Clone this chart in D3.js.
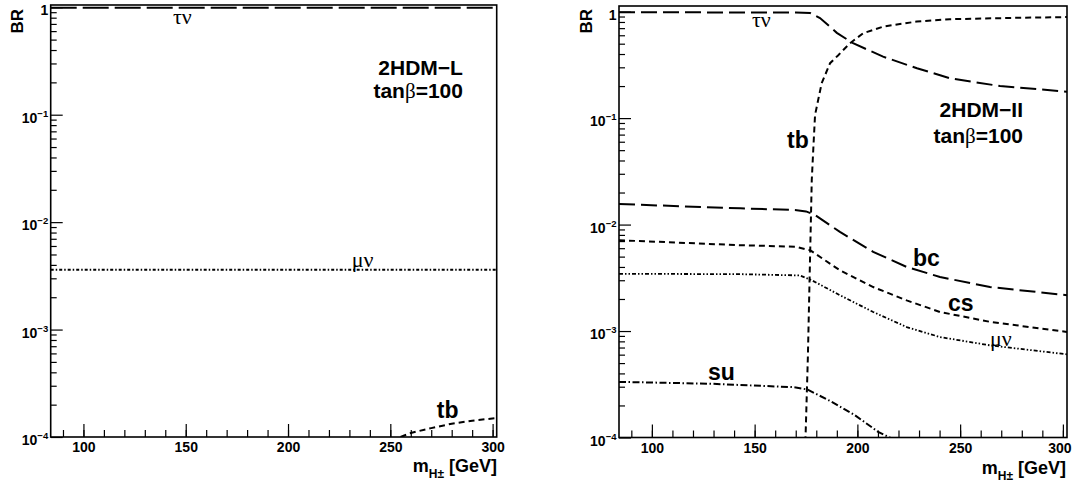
<!DOCTYPE html>
<html><head><meta charset="utf-8">
<script src="https://cdn.jsdelivr.net/npm/d3@7"></script>
<style>body{margin:0;background:#fff}</style>
</head><body>
<svg id="c" width="1073" height="488"></svg>
<script>
// ---- data ----
const massTicks = [100, 150, 200, 250, 300];
const massMinorTicks = [90,100,110,120,130,140,150,160,170,180,190,200,210,220,230,240,250,260,270,280,290,300];
const brTicks = [1e-4, 1e-3, 1e-2, 1e-1, 1];
const brTickBase = ["10", "10", "10", "10", "1"];
const brTickExp = ["\u22124", "\u22123", "\u22122", "\u22121", ""];
const brMinorMult = [2,3,4,5,6,7,8,9];

// 2HDM-L, tan(beta)=100
const leftTauNu = [[84, 0.99], [302, 0.99]];
const leftMuNu  = [[84, 3.6e-3], [302, 3.6e-3]];
const leftTb    = [[255, 1.0e-4], [260, 1.09e-4], [270, 1.21e-4], [280, 1.33e-4], [290, 1.42e-4], [302, 1.5e-4]];

// 2HDM-II, tan(beta)=100
const rightTauNu = [[84,0.985],[120,0.985],[170,0.98],[177,0.97],[181.8,0.87],[186,0.74],[190,0.632],[197.9,0.505],[212.5,0.378],[229,0.294],[245,0.237],[269.4,0.2],[302,0.177]];
const rightTb = [[174.7,0.9e-4],[175.9,5.66e-4],[177.8,2.62e-2],[178.6,5.38e-2],[179.4,0.107],[182.6,0.212],[186.7,0.328],[190.7,0.39],[196.4,0.505],[202.9,0.628],[212.6,0.724],[228.9,0.807],[245,0.849],[277.5,0.875],[302,0.89]];
const rightBc = [[84,1.56e-2],[143,1.42e-2],[169.6,1.37e-2],[175,1.33e-2],[179.4,1.23e-2],[191.5,8.54e-3],[207.7,5.54e-3],[224,4.0e-3],[240.2,3.22e-3],[264.5,2.59e-3],[302,2.17e-3]];
const rightCs = [[84,7.13e-3],[143,6.4e-3],[169.6,6.2e-3],[177,5.74e-3],[191.5,3.72e-3],[207.7,2.59e-3],[224,1.94e-3],[240.2,1.51e-3],[264.5,1.22e-3],[302,9.8e-4]];
const rightMuNu = [[84,3.45e-3],[143,3.42e-3],[172,3.33e-3],[177.8,3.0e-3],[191.5,2.17e-3],[207.7,1.51e-3],[224,1.09e-3],[240.2,8.78e-4],[264.5,7.34e-4],[302,6.04e-4]];
const rightSu = [[84,3.33e-4],[128.3,3.2e-4],[168.8,2.97e-4],[175.5,2.83e-4],[186.8,2.2e-4],[198.4,1.64e-4],[210.1,1.13e-4],[218,0.95e-4]];

// ---- styles ----
const DASH_LONG_L = "26,6", DASH_LONG = "16,6", DASH_SHORT = "6,4", DASH_DDOT = "4,2,1.5,2,1.5,2", DASH_DOT = "7,2.5,1.5,2.5";
const SANS = "'Liberation Sans', Arial, Helvetica, sans-serif";
const SERIF = "'Liberation Serif', 'Times New Roman', serif";
const W = 1073;

const panels = [
  { x0: 50.7, x1: 496.7, y0: 5, y1: 437, ymax: 1.05, brX: 23, titleEnd: 497, titleY: 472, labelY: 5,
    curves: [
      { data: leftTauNu, dash: DASH_LONG_L, w: 2 },
      { data: leftMuNu, dash: "3,2,1.5,2", w: 2 },
      { data: leftTb, dash: DASH_SHORT, w: 2 }
    ],
    labels: [
      { t: "\u03c4\u03bd", m: 143.8, br: 0.70, serif: true },
      { t: "\u03bc\u03bd", m: 231.1, br: 3.8e-3, serif: true },
      { t: "tb", m: 272.7, br: 1.49e-4 }
    ],
    model: ["2HDM\u2212L", 285.5, 0.235, 0.143]
  },
  { x0: 619, x1: 1067, y0: 6, y1: 437.5, ymax: 1.13, brX: 592, titleEnd: 1066, titleY: 474, labelY: 6,
    curves: [
      { data: rightTauNu, dash: DASH_LONG, w: 2 },
      { data: rightBc, dash: DASH_LONG, w: 2 },
      { data: rightTb, dash: DASH_SHORT, w: 2 },
      { data: rightCs, dash: DASH_SHORT, w: 2 },
      { data: rightMuNu, dash: DASH_DDOT, w: 1.8 },
      { data: rightSu, dash: DASH_DOT, w: 2 }
    ],
    labels: [
      { t: "\u03c4\u03bd", m: 148.7, br: 0.717, serif: true },
      { t: "tb", m: 165.8, br: 0.0521 },
      { t: "bc", m: 227.1, br: 4.04e-3 },
      { t: "cs", m: 244.1, br: 1.53e-3 },
      { t: "\u03bc\u03bd", m: 264.5, br: 7.3e-4, serif: true },
      { t: "su", m: 127.3, br: 3.5e-4 }
    ],
    model: ["2HDM\u2212II", 280.6, 0.103, 0.059]
  }
];

const svg = d3.select("#c");

panels.forEach((p, i) => {
  const x = d3.scaleLinear().domain([84, 302]).range([p.x0, p.x1]);
  const y = d3.scaleLog().domain([1e-4, p.ymax]).range([p.y1, p.y0]);
  const g = svg.append("g");

  const clipId = "clip" + i;
  g.append("clipPath").attr("id", clipId).append("rect")
    .attr("x", p.x0).attr("y", p.y0).attr("width", p.x1 - p.x0).attr("height", p.y1 - p.y0);

  // curves
  const line = d3.line().x(d => x(d[0])).y(d => y(d[1]));
  const cg = g.append("g").attr("clip-path", `url(#${clipId})`);
  p.curves.forEach(c => {
    cg.append("path").attr("d", line(c.data)).attr("fill", "none")
      .attr("stroke", "#000").attr("stroke-width", c.w).attr("stroke-dasharray", c.dash);
  });

  // x axis major / minor ticks (inward)
  const xMinor = d3.axisBottom(x).tickValues(massMinorTicks).tickSize(-7).tickFormat("");
  g.append("g").attr("transform", `translate(0,${p.y1})`).call(xMinor)
    .call(a => a.select(".domain").remove())
    .selectAll("line").attr("stroke", "#000").attr("stroke-width", 1.2);
  const xMajor = d3.axisBottom(x).tickValues(massTicks).tickSize(-13).tickPadding(p.labelY).tickFormat(d3.format("d"));
  g.append("g").attr("transform", `translate(0,${p.y1})`).call(xMajor)
    .call(a => a.select(".domain").remove())
    .call(a => a.selectAll("line").attr("stroke", "#000").attr("stroke-width", 1.2))
    .call(a => a.selectAll("text").attr("font-family", SANS).attr("font-weight", "bold")
      .attr("font-size", 14).attr("fill", "#000")
      .each(function(d) {
        // keep the last label inside the picture
        const bb = this.getBBox();
        const right = x(d) + bb.width / 2;
        if (right > W - 2) d3.select(this).attr("text-anchor", "end").attr("x", W - 2 - x(d));
      }));

  // y axis ticks
  const minorVals = [];
  brTicks.forEach(b => brMinorMult.forEach(m => { const v = b * m; if (v <= p.ymax) minorVals.push(v); }));
  const yMinor = d3.axisLeft(y).tickValues(minorVals).tickSize(-6).tickFormat("");
  g.append("g").attr("transform", `translate(${p.x0},0)`).call(yMinor)
    .call(a => a.select(".domain").remove())
    .selectAll("line").attr("stroke", "#000").attr("stroke-width", 1.2);
  const yMajor = d3.axisLeft(y).tickValues(brTicks).tickSize(-12).tickFormat("");
  g.append("g").attr("transform", `translate(${p.x0},0)`).call(yMajor)
    .call(a => a.select(".domain").remove())
    .selectAll("line").attr("stroke", "#000").attr("stroke-width", 1.2);

  // y tick labels with superscripts
  brTicks.forEach((b, k) => {
    const t = g.append("text").attr("x", p.x0 - 2.5).attr("y", y(b) + 8)
      .attr("text-anchor", "end").attr("font-family", SANS).attr("font-weight", "bold")
      .attr("font-size", 14).attr("fill", "#000");
    t.append("tspan").text(brTickBase[k]);
    if (brTickExp[k]) t.append("tspan").attr("font-size", 9.5).attr("dy", -6).text(brTickExp[k]);
  });

  // frame
  g.append("rect").attr("x", p.x0).attr("y", p.y0).attr("width", p.x1 - p.x0).attr("height", p.y1 - p.y0)
    .attr("fill", "none").attr("stroke", "#000").attr("stroke-width", 1.6);

  // axis titles
  g.append("text").attr("transform", `translate(${p.brX},9) rotate(-90)`).attr("text-anchor", "end")
    .attr("font-family", SANS).attr("font-weight", "bold").attr("font-size", 17).text("BR");
  const xt = g.append("text").attr("x", p.titleEnd).attr("y", p.titleY).attr("text-anchor", "end")
    .attr("font-family", SANS).attr("font-weight", "bold").attr("font-size", 18);
  xt.append("tspan").text("m");
  xt.append("tspan").attr("font-size", 12).attr("dy", 6).text("H\u00b1");
  xt.append("tspan").attr("dy", -6).text(" [GeV]");

  // curve labels
  p.labels.forEach(l => {
    g.append("text").attr("x", x(l.m)).attr("y", y(l.br))
      .attr("font-family", l.serif ? SERIF : SANS).attr("font-weight", l.serif ? "normal" : "bold")
      .attr("font-size", l.serif ? 22 : 23).text(l.t);
  });

  // model label
  const [name, mEnd, br1, br2] = p.model;
  g.append("text").attr("x", x(mEnd)).attr("y", y(br1)).attr("text-anchor", "end")
    .attr("font-family", SANS).attr("font-weight", "bold").attr("font-size", 21).text(name);
  const tb = g.append("text").attr("x", x(mEnd)).attr("y", y(br2)).attr("text-anchor", "end")
    .attr("font-family", SANS).attr("font-weight", "bold").attr("font-size", 21);
  tb.append("tspan").text("tan");
  tb.append("tspan").attr("font-family", SERIF).attr("font-weight", "normal").text("\u03b2");
  tb.append("tspan").text("=100");
});
</script>
</body></html>
